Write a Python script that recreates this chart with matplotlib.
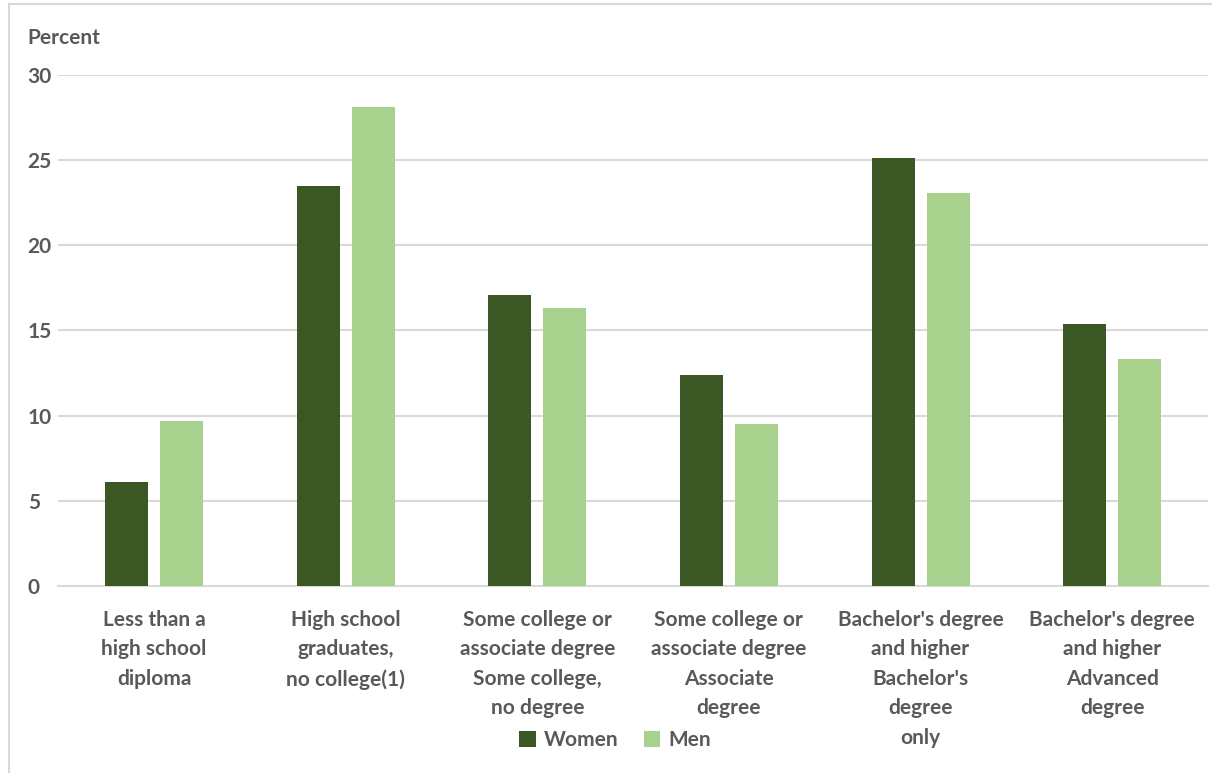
import matplotlib.pyplot as plt
import numpy as np
from matplotlib.patches import Rectangle

categories = ["Less than a\nhigh school\ndiploma",
              "High school\ngraduates,\nno college(1)",
              "Some college or\nassociate degree\nSome college,\nno degree",
              "Some college or\nassociate degree\nAssociate\ndegree",
              "Bachelor's degree\nand higher\nBachelor's\ndegree\nonly",
              "Bachelor's degree\nand higher\nAdvanced\ndegree"]
women = [6.1, 23.5, 17.1, 12.4, 25.1, 15.4]
men = [9.7, 28.1, 16.3, 9.5, 23.1, 13.3]
yticks = [0, 5, 10, 15, 20, 25, 30]

dark = '#3A5724'
light = '#A9D18E'
txt = '#595959'

plt.rcParams['font.family'] = ['Lato', 'DejaVu Sans']
plt.rcParams['font.weight'] = 'bold'

fig = plt.figure(figsize=(12.12, 7.73), dpi=100)
ax = fig.add_axes([0.048, 0.242, 0.9487, 0.661])

x = np.arange(len(categories))
w = 0.224
gap = 0.063
ax.bar(x - (w + gap) / 2, women, w, color=dark, label='Women', zorder=3)
ax.bar(x + (w + gap) / 2, men, w, color=light, label='Men', zorder=3)

ax.set_xlim(-0.5, len(categories) - 0.5)
ax.set_ylim(0, 30)
ax.set_yticks(yticks)
ax.set_yticklabels([str(t) for t in yticks], fontsize=15, color=txt, fontweight='bold')
ax.set_xticks(x)
ax.set_xticklabels(categories, fontsize=15, color=txt, fontweight='bold', linespacing=1.6)
ax.tick_params(axis='both', length=0)
for lab in ax.get_yticklabels():
    lab.set_horizontalalignment('left')
ax.tick_params(axis='y', pad=22)
ax.tick_params(axis='x', pad=17)

ax.grid(axis='y', color='#D9D9D9', linewidth=1.5, zorder=0)
for s in ['top', 'right', 'left']:
    ax.spines[s].set_visible(False)
ax.spines['bottom'].set_color('#D9D9D9')
ax.spines['bottom'].set_linewidth(1.5)

fig.text(27 / 1212, 1 - 38 / 773, 'Percent', fontsize=15, color=txt, fontweight='bold', va='center')

leg = fig.legend(loc='center', bbox_to_anchor=(615 / 1212, 1 - 740 / 773), ncol=2, frameon=False,
                 fontsize=15, handlelength=0.8, handleheight=0.8, handletextpad=0.4, columnspacing=1.2)
for t in leg.get_texts():
    t.set_color(txt)

fig.patches.append(Rectangle((9 / 1212, -0.01), 1.2, 1 - 4 / 773 + 0.01, transform=fig.transFigure,
                             fill=False, edgecolor='#D9D9D9', linewidth=1.5))

fig.savefig('out.png', dpi=100)
